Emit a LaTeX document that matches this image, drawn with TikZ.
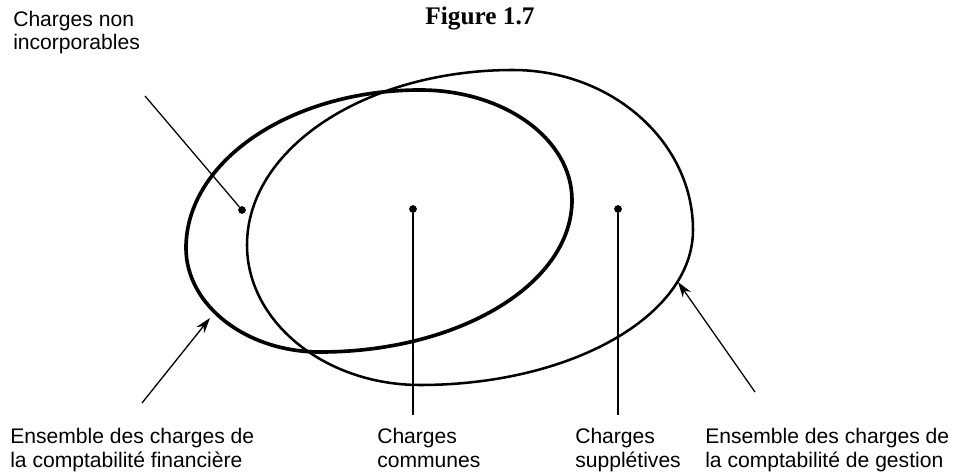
\documentclass[tikz,border=0pt]{standalone}
\usepackage{fontspec}
\setmainfont{Liberation Sans}
\newfontfamily\titlefont{Liberation Serif}
\usetikzlibrary{arrows.meta}

\begin{document}
\begin{tikzpicture}[x=0.025cm, y=-0.025cm,
  label/.style={align=left, anchor=base west, inner sep=0pt, font=\fontsize{15}{17}\selectfont},
  dot/.style={circle, fill=black, inner sep=0pt, minimum size=5.5pt},
  lead/.style={line width=0.9pt},
  pointer/.style={line width=0.9pt, -{Stealth[length=11pt,width=7pt]}},
  finance/.style={line width=2.6pt},
  gestion/.style={line width=1.8pt}]
\useasboundingbox (0,0) rectangle (955,473);

\node[font=\titlefont\bfseries\fontsize{18}{20}\selectfont, anchor=base, inner sep=0pt] (titre) at (480,25) {Figure 1.7};

% comptabilite financiere
\draw[finance] (186,248) .. controls (186,161) and (291,90) .. (420,90)
  .. controls (504,90) and (572,139) .. (572,200)
  .. controls (572,284) and (459,352) .. (320,352)
  .. controls (246,352) and (186,305) .. cycle;
% comptabilite de gestion
\draw[gestion] (247,245) .. controls (247,148) and (366,70) .. (513,70)
  .. controls (612,70) and (693,142) .. (693,230)
  .. controls (693,316) and (571,385) .. (420,385)
  .. controls (325,385) and (247,322) .. cycle;

\node[dot] (dnon) at (242,210) {};
\node[dot] (dcom) at (413,209) {};
\node[dot] (dsup) at (618,209) {};

% base = derniere ligne
\node[label] (nonincorp) at (13,50) {Charges non\\incorporables};
\node[label] (communes) at (377,467) {Charges\\communes};
\node[label] (suppl) at (575,467) {Charges\\supplétives};
\node[label] (ensfin) at (10,467) {Ensemble des charges de\\la comptabilité financière};
\node[label] (ensgest) at (705,467) {Ensemble des charges de\\la comptabilité de gestion};

\coordinate (lnon) at (145,96);
\coordinate (lcom) at (413,415);
\coordinate (lsup) at (618,415);
\coordinate (qfin) at (142,403);
\coordinate (tfin) at (210,318);
\coordinate (qgest) at (755,392);
\coordinate (tgest) at (678,282);

\draw[lead] (lnon) -- (dnon);
\draw[lead] (dcom) -- (lcom);
\draw[lead] (dsup) -- (lsup);
\draw[pointer] (qfin) -- (tfin);
\draw[pointer] (qgest) -- (tgest);
\end{tikzpicture}
\end{document}
